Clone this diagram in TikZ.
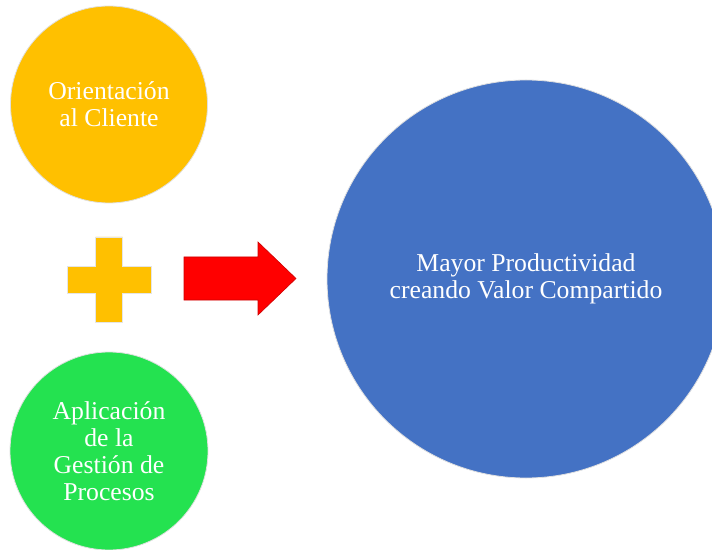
\documentclass[tikz,border=0pt]{standalone}
\usepackage{fontspec}
\setmainfont{Liberation Serif}
\newfontfamily\serifa{Liberation Serif}
\usepackage{tikz}
\usetikzlibrary{positioning,shapes.geometric}

\definecolor{ambar}{HTML}{FFC000}
\definecolor{verde}{HTML}{24E250}
\definecolor{azul}{HTML}{4472C4}

\tikzset{
  circulo/.style={circle, draw=black!12, line width=0.8bp, text=white,
    align=center, inner sep=0pt,
    font=\serifa\fontsize{25.8}{27}\selectfont},
  signo/.style={draw=black!10, line width=0.6bp}
}

\begin{document}
\begin{tikzpicture}[x=1bp,y=-1bp]
\useasboundingbox (0,0) rectangle (712,550);
\clip (0,0) rectangle (712,550);
\node[circulo, fill=ambar, minimum size=197bp] (cliente) at (109,104.5)
  {Orientación\\al Cliente};
\node[circulo, fill=verde, minimum size=198bp] (procesos) at (109,451)
  {Aplicación\\de la\\Gestión de\\Procesos};
\node[circulo, fill=azul, minimum size=398bp] (valor) at (526,279)
  {Mayor Productividad\\creando Valor Compartido};
% signo mas
\coordinate (mas) at (109,279.5);
\draw[signo, fill=ambar] ([shift={(-13.5,-42.5)}]mas) -- ++(27,0) -- ++(0,29)
  -- ++(28.5,0) -- ++(0,27) -- ++(-28.5,0) -- ++(0,29) -- ++(-27,0)
  -- ++(0,-29) -- ++(-28.5,0) -- ++(0,-27) -- ++(28.5,0) -- cycle;
% flecha
\coordinate (flecha) at (184,278.5);
\draw[signo, draw=red!80!black, fill=red] ([shift={(0,-21.5)}]flecha) -- ++(74,0)
  -- ++(0,-15) -- ([shift={(112,0)}]flecha) -- ([shift={(74,36.5)}]flecha)
  -- ++(0,-15) -- ++(-74,0) -- cycle;
\end{tikzpicture}
\end{document}
